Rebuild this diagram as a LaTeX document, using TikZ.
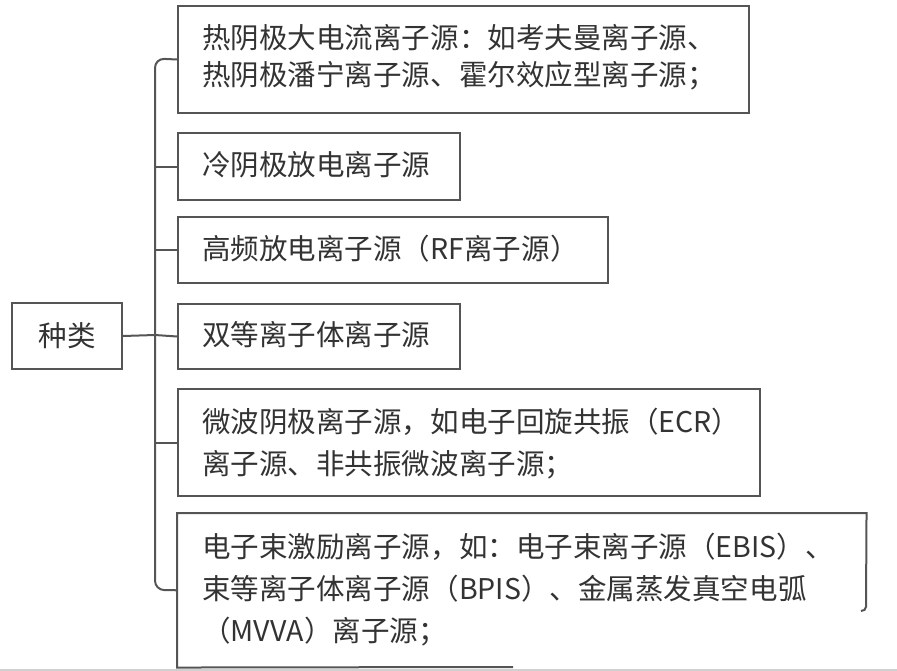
\documentclass[tikz,border=0pt]{standalone}
\usepackage{fontspec}
\setmainfont{Noto Sans CJK SC}
\definecolor{linec}{HTML}{555555}
\definecolor{textc}{HTML}{333333}
\definecolor{edgec}{HTML}{D0D0D0}
\begin{document}
\begin{tikzpicture}[x=0.75pt,y=-0.75pt,
  boxframe/.style={draw=linec, line width=1.5pt, rectangle, inner sep=0pt, anchor=north west},
  openframe/.style={rectangle, inner sep=0pt, anchor=north west},
  label/.style={anchor=west, inner sep=0pt, align=left, text=textc, font=\fontsize{21.4}{31.5}\selectfont},
  labeltight/.style={label, font=\fontsize{21.4}{28}\selectfont},
  conn/.style={draw=linec, line width=1.5pt}]
\useasboundingbox (0,0) rectangle (897,671);
% frames
\node[boxframe, minimum width=110*0.75pt, minimum height=66*0.75pt] (root) at (11,302) {};
\node[boxframe, minimum width=571*0.75pt, minimum height=107*0.75pt] (b1) at (177,5) {};
\node[boxframe, minimum width=282*0.75pt, minimum height=67*0.75pt] (b2) at (177,132) {};
\node[boxframe, minimum width=430*0.75pt, minimum height=66*0.75pt] (b3) at (177,216) {};
\node[boxframe, minimum width=282*0.75pt, minimum height=65*0.75pt] (b4) at (177,303) {};
\node[boxframe, minimum width=582*0.75pt, minimum height=107*0.75pt] (b5) at (177,388) {};
\node[openframe, minimum width=689*0.75pt, minimum height=154*0.75pt] (b6) at (177,513) {};
% open last frame
\draw[conn] (513,667) -- (b6.south west) -- (b6.north west) -- (b6.north east) -- (866,607) to[out=270,in=0] (861,611);
% labels
\node[label, anchor=center, font=\fontsize{21.4}{28}\selectfont] (troot) at (root.center) {种类};
\node[labeltight] (t1) at (202,57) {热阴极大电流离子源：如考夫曼离子源、\\热阴极潘宁离子源、霍尔效应型离子源；};
\node[label] (t2) at (202,165) {冷阴极放电离子源};
\node[label] (t3) at (202,249) {高频放电离子源（RF离子源）};
\node[label] (t4) at (202,335) {双等离子体离子源};
\node[label] (t5) at (202,444) {微波阴极离子源，如电子回旋共振（ECR）\\离子源、非共振微波离子源；};
\node[label] (t6) at (202,590) {电子束激励离子源，如：电子束离子源（EBIS）、\\束等离子体离子源（BPIS）、金属蒸发真空电弧\\（MVVA）离子源；};
% connectors
\coordinate (jtop) at (155,58.5);
\coordinate (jbot) at (155,590);
\coordinate (jmid) at (155,335);
\draw[conn, rounded corners=7pt] (b1.west) -- (jtop) -- (jbot) -- (b6.west);
\draw[conn] (root.east) -- (jmid);
\draw[conn] (jmid) -- (b4.west);
\draw[conn] (b2.west -| jtop) -- (b2.west);
\draw[conn] (b3.west -| jtop) -- (b3.west);
\draw[conn] (b5.west -| jtop) -- (b5.west);
% bottom screenshot edge
\draw[edgec, line width=1pt] (0,670) -- (897,670);
\end{tikzpicture}
\end{document}
